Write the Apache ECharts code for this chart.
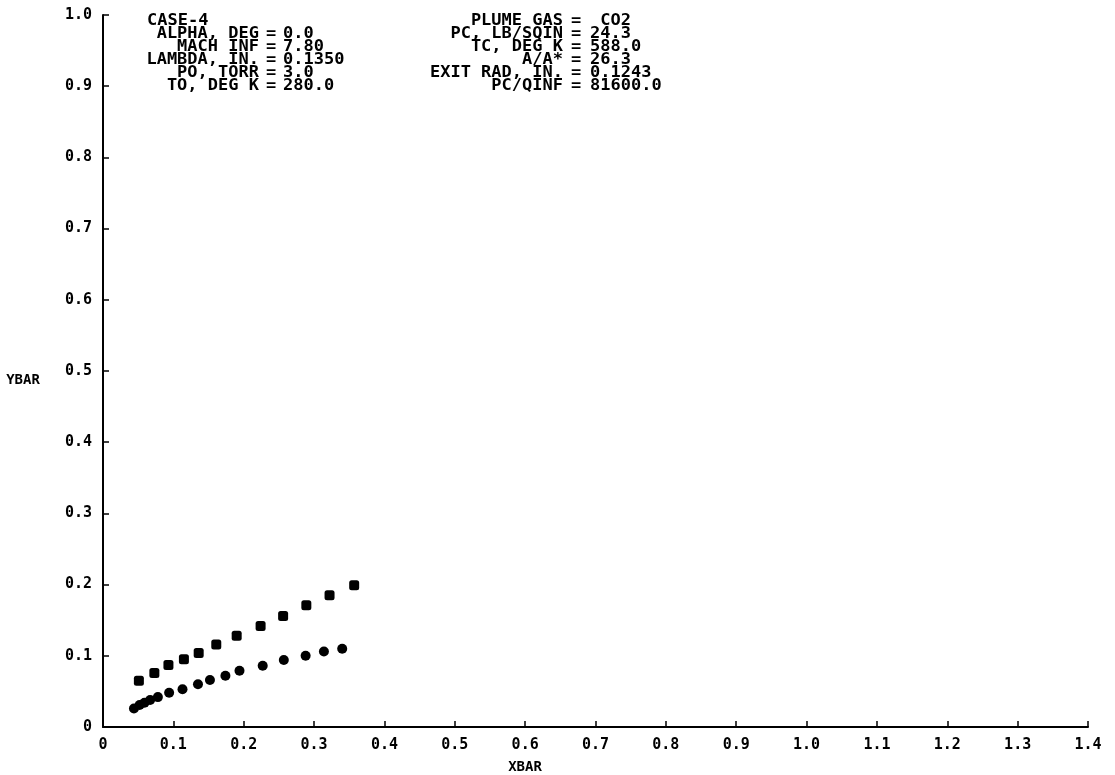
<!DOCTYPE html>
<html>
<head>
<meta charset="utf-8">
<script src="https://cdn.jsdelivr.net/npm/echarts@6/dist/echarts.min.js"></script>
<style>
html,body{margin:0;padding:0;background:#fff;}
#chart{width:1115px;height:775px;}
</style>
</head>
<body>
<div id="chart"></div>
<script>
// ---- data ----
var xTicks = [0,0.1,0.2,0.3,0.4,0.5,0.6,0.7,0.8,0.9,1.0,1.1,1.2,1.3,1.4];
var yTicks = [0,0.1,0.2,0.3,0.4,0.5,0.6,0.7,0.8,0.9,1.0];
var upperX = [0.051,0.073,0.093,0.115,0.136,0.161,0.190,0.224,0.256,0.289,0.322,0.357];
var upperY = [0.065,0.076,0.087,0.095,0.104,0.116,0.128,0.142,0.156,0.171,0.185,0.199];
var lowerX = [0.044,0.052,0.059,0.067,0.078,0.094,0.113,0.135,0.152,0.174,0.194,0.227,0.257,0.288,0.314,0.340];
var lowerY = [0.026,0.031,0.034,0.038,0.042,0.048,0.053,0.060,0.066,0.072,0.079,0.086,0.094,0.100,0.106,0.110];
var caseTitle = 'CASE-4';
var leftLabels = ['ALPHA, DEG','MACH INF','LAMBDA, IN.','PO, TORR','TO, DEG K'];
var leftValues = ['0.0','7.80','0.1350','3.0','280.0'];
var rightLabels = ['PLUME GAS','PC, LB/SQIN','TC, DEG K','A/A*','EXIT RAD, IN.','PC/QINF'];
var rightValues = [' CO2','24.3','588.0','26.3','0.1243','81600.0'];
var xName = 'XBAR';
var yName = 'YBAR';

function zip(a,b){var r=[];for(var i=0;i<a.length;i++)r.push([a[i],b[i]]);return r;}

var FONT = 'DejaVu Sans Mono';
var txt = {fontFamily:FONT,fontWeight:'bold',fontSize:17,fill:'#000'};
function T(x,y,s,align,size,sy){
  var st = Object.assign({},txt,{text:s,align:align||'left',verticalAlign:'middle'});
  if(size) st.fontSize=size;
  return {type:'text',x:x,y:y,scaleY:sy||1,style:st};
}
var graphics = [];
var row0 = 21, pitch = 13;
graphics.push(T(147,row0,caseTitle,'left',0,0.88));
for (var i=0;i<leftLabels.length;i++){
  var y = row0 + pitch*(i+1);
  graphics.push(T(259,y,leftLabels[i],'right',0,0.88));
  graphics.push(T(271,y,'=','center',0,0.88));
  graphics.push(T(283,y,leftValues[i],'left',0,0.88));
}
for (var j=0;j<rightLabels.length;j++){
  var y2 = row0 + pitch*j;
  graphics.push(T(563,y2,rightLabels[j],'right',0,0.88));
  graphics.push(T(576,y2,'=','center',0,0.88));
  graphics.push(T(590,y2,rightValues[j],'left',0,0.88));
}
graphics.push(T(23,380,yName,'center',14));
graphics.push(T(525,767,xName,'center',14));

var chart = echarts.init(document.getElementById('chart'));
chart.setOption({
  animation:false,
  backgroundColor:'#fff',
  grid:{left:103,right:27,top:15,bottom:48,containLabel:false},
  xAxis:{
    type:'value',min:0,max:1.4,interval:0.1,
    axisLine:{lineStyle:{color:'#000',width:2}},
    axisTick:{show:true,inside:true,length:6,lineStyle:{color:'#000',width:1.5}},
    splitLine:{show:false},
    axisLabel:{margin:11,color:'#000',fontFamily:FONT,fontWeight:'bold',fontSize:15,
      formatter:function(v){return Math.abs(v)<1e-9?'0':v.toFixed(1);}}
  },
  yAxis:{
    type:'value',min:0,max:1.0,interval:0.1,
    axisLine:{show:true,lineStyle:{color:'#000',width:2}},
    axisTick:{show:true,inside:true,length:6,lineStyle:{color:'#000',width:1.5}},
    splitLine:{show:false},
    axisLabel:{margin:11,color:'#000',fontFamily:FONT,fontWeight:'bold',fontSize:15,
      formatter:function(v){return Math.abs(v)<1e-9?'0':v.toFixed(1);}}
  },
  series:[
    {type:'scatter',data:zip(upperX,upperY),symbol:'roundRect',symbolSize:10,itemStyle:{color:'#000',opacity:1}},
    {type:'scatter',data:zip(lowerX,lowerY),symbol:'circle',symbolSize:10,itemStyle:{color:'#000',opacity:1}}
  ],
  graphic:graphics
});
</script>
</body>
</html>
